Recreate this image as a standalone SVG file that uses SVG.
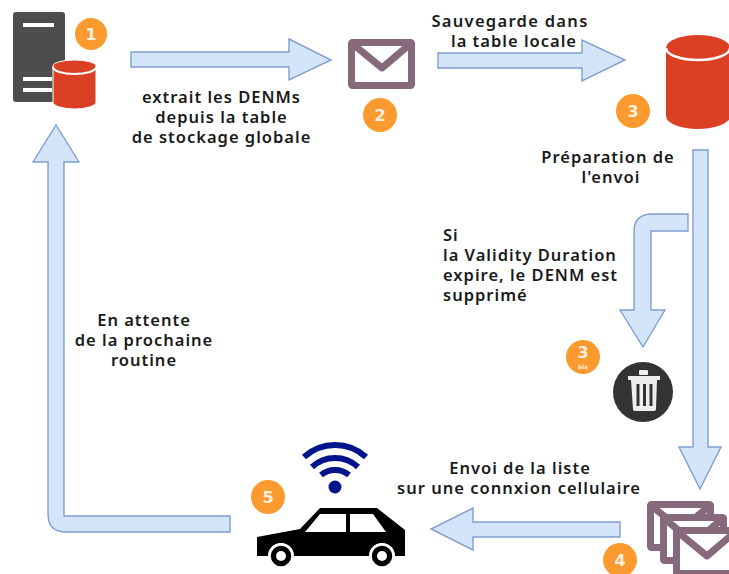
<svg xmlns="http://www.w3.org/2000/svg" width="729" height="574" viewBox="0 0 729 574">
<defs>
<style>
.a{fill:#d5e5f9;stroke:#7f9fcf;stroke-width:1.4;stroke-linejoin:miter}
.t{font-family:"Noto Sans","Open Sans",sans-serif;font-size:16.500px;font-weight:600;fill:#1a1a1a;letter-spacing:1px}
.m{text-anchor:middle}
.b{fill:#fb9a2f}
.n{font-family:"DejaVu Sans",sans-serif;font-size:16px;font-weight:700;fill:#fdf0de;text-anchor:middle}
.e{fill:#fff;stroke:#866a7c;stroke-width:7;stroke-linejoin:round}
.f{fill:none;stroke:#866a7c;stroke-width:7;stroke-linejoin:round}
.w{fill:none;stroke:#00148c;stroke-width:6}
</style>
<symbol id="env" overflow="visible">
<rect class="e" x="3.500" y="3.500" width="60" height="43" rx="1"/>
<path class="f" d="M6 6L34 29L61 6"/>
</symbol>
</defs>
<rect width="729" height="574" fill="#fff"/>
<g id="connectors">
<path class="a" d="M131 52H289V39L331 60L289 80V67H131Z"/>
<path class="a" d="M438 53H582V40L625 60L582 81V68H438Z"/>
<path class="a" d="M693 150H708V447H721L700 489L679 447H693Z"/>
<path class="a" d="M688 214V231H651V310H665L643 347L620 310H634V232Q634 214 652 214Z"/>
<path class="a" d="M620 522V537H473V550L431 529L473 508V522Z"/>
<path class="a" d="M230 516V532H66Q48 532 48 514V162H33L56 125L79 162H64V516Z"/>
</g>
<g id="n1">
<rect x="13" y="12" width="52" height="90" rx="3" fill="#4d4d4d"/>
<path d="M23 25H54M23 79H52M23 90H52" stroke="#fff" stroke-width="4" fill="none"/>
<path d="M53 66A21.500 6 0 0 1 96 66V102A21.500 7 0 0 1 53 102Z" fill="#db4025" stroke="#fff" stroke-width="1"/>
<path d="M53 67A21.500 7 0 0 0 96 67" fill="none" stroke="#fff" stroke-width="2"/>
<circle class="b" cx="91" cy="34" r="16"/>
<text class="n" x="91" y="40">1</text>
</g>
<g id="n2">
<use href="#env" x="348" y="39"/>
<circle class="b" cx="380" cy="115" r="17"/>
<text class="n" x="380" y="121">2</text>
</g>
<g id="n3">
<path d="M666 48A32 13 0 0 1 730 48V116A32 13 0 0 1 666 116Z" fill="#db4025"/>
<path d="M666 48A32 12 0 0 0 730 48" fill="none" stroke="#fff" stroke-width="2.500"/>
<circle class="b" cx="633" cy="111" r="17"/>
<text class="n" x="633" y="117">3</text>
</g>
<g id="n3bis">
<circle class="b" cx="583" cy="357" r="17"/>
<text class="n" x="583" y="358">3</text>
<text x="583" y="369" font-family="DejaVu Sans,sans-serif" font-size="6" font-weight="700" fill="#fdf0de" text-anchor="middle">bis</text>
<circle cx="643" cy="392" r="30" fill="#333"/>
<path d="M629 376H660V380H657L656 409Q656 411 654 411H635Q633 411 633 409L631 380H628V376Z" fill="#eee"/>
<rect x="639" y="370" width="9" height="5" rx="1" fill="#eee"/>
<path d="M638 384V406M644.500 384V406M651 384V406" stroke="#333" stroke-width="3"/>
</g>
<g id="n4">
<use href="#env" x="647" y="501"/>
<use href="#env" x="660" y="514"/>
<use href="#env" x="673" y="527"/>
<circle class="b" cx="620" cy="560" r="17"/>
<text class="n" x="620" y="566">4</text>
</g>
<g id="n5">
<path d="M257 537L300 529L320 508H377L405 530V556H395A13 13 0 0 0 369 556H294A13 13 0 0 0 268 556H257Z" fill="#000"/>
<path d="M305 532L320 514H346V532ZM350 514H373L386 532H350Z" fill="#fff"/>
<circle cx="281" cy="556" r="11.500" fill="#000" stroke="#fff" stroke-width="2.500"/>
<circle cx="281" cy="556" r="5" fill="#fff"/>
<circle cx="382" cy="556" r="11.500" fill="#000" stroke="#fff" stroke-width="2.500"/>
<circle cx="382" cy="556" r="5" fill="#fff"/>
<circle cx="335" cy="487" r="6.500" fill="#00148c"/>
<path class="w" d="M321 475A22 22 0 0 1 349 475M312 467A34 34 0 0 1 358 467M304 457A46 46 0 0 1 366 457"/>
<circle class="b" cx="268" cy="497" r="17"/>
<text class="n" x="268" y="503">5</text>
</g>
<g id="labels">
<text class="t m"><tspan x="221.500" y="102.500">extrait les DENMs</tspan><tspan x="221.500" y="122.500">depuis la table</tspan><tspan x="221.500" y="142.500">de stockage globale</tspan></text>
<text class="t m"><tspan x="510" y="27" letter-spacing="1.300">Sauvegarde dans</tspan><tspan x="514" y="47">la table locale</tspan></text>
<text class="t m"><tspan x="608" y="162.500">Préparation de</tspan><tspan x="611" y="182.500">l'envoi</tspan></text>
<text class="t"><tspan x="443" y="241">Si</tspan><tspan x="443" y="261">la Validity Duration</tspan><tspan x="443" y="281">expire, le DENM est</tspan><tspan x="443" y="301">supprimé</tspan></text>
<text class="t m"><tspan x="144" y="326">En attente</tspan><tspan x="144" y="346">de la prochaine</tspan><tspan x="144" y="366">routine</tspan></text>
<text class="t m"><tspan x="520" y="474">Envoi de la liste</tspan><tspan x="519" y="494">sur une connxion cellulaire</tspan></text>
</g>
</svg>
